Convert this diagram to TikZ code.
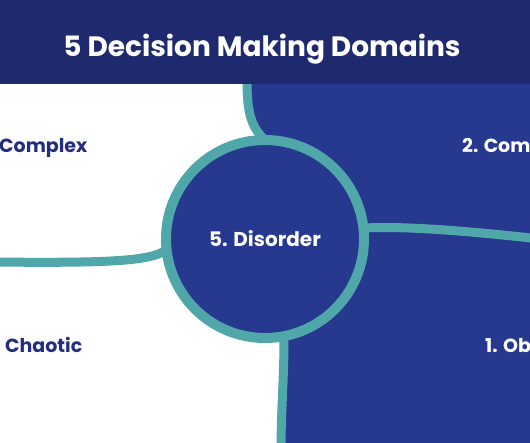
\documentclass[tikz,border=0pt]{standalone}
\usepackage{fontspec}
\setmainfont{Poppins}
\definecolor{headnavy}{HTML}{1E2A6D}
\definecolor{domblue}{HTML}{27388F}
\definecolor{ringteal}{HTML}{4FA7A9}
\definecolor{lblnavy}{HTML}{232F7E}
\begin{document}
\begin{tikzpicture}[x=1pt, y=-1pt, line join=round, line cap=round,
	ring/.style={draw=ringteal, line width=9pt},
	lbl/.style={anchor=base west, inner sep=0pt, font=\fontsize{19}{21}\selectfont\bfseries}]
	\useasboundingbox (0,0) rectangle (530,442);
	\clip (0,0) rectangle (530,442);
	
	% Nền trắng và miền xanh bên phải
	\fill[white] (0,0) rectangle (530,442);
	\fill[domblue] (247,80) .. controls (247,115) and (252,128) .. (262,140) -- (284,335) .. controls (284,380) and (281,410) .. (281,450) -- (540,450) -- (540,80) -- cycle;
	
	% Các điểm mút của đường biên
	\coordinate (topend) at (247,80);
	\coordinate (leftend) at (-10,262);
	\coordinate (rightend) at (540,239);
	\coordinate (botend) at (281,450);
	
	% Đường biên giữa các miền
	\draw[ring] (topend) .. controls (247,112) and (251,126) .. (263,138);
	\draw[ring] (leftend) .. controls (100,263) and (150,262) .. (166,250);
	\draw[ring] (365,228) .. controls (400,226) and (460,230) .. (rightend);
	\draw[ring] (284,338) .. controls (284,380) and (281,410) .. (botend);
	
	% Thanh tiêu đề
	\fill[headnavy] (0,0) rectangle (530,84);
	\node[anchor=base, inner sep=0pt, text=white, font=\fontsize{28}{30}\selectfont\bfseries] (title) at (262,56) {5 Decision Making Domains};
	
	% Vòng tròn trung tâm
	\node[circle, fill=domblue, draw=ringteal, line width=10pt, minimum size=198pt, inner sep=0pt, text=white, font=\fontsize{20}{22}\selectfont\bfseries] (disorder) at (265,239) {5. Disorder};
	
	% Nhãn các miền
	\node[lbl, text=lblnavy] (complex) at (-1,152) {Complex};
	\node[lbl, text=white] (complicated) at (462,152) {2. Com};
	\node[lbl, text=lblnavy] (chaotic) at (5,352) {Chaotic};
	\node[lbl, text=white] (obvious) at (485,352) {1. Ob};
\end{tikzpicture}
\end{document}
